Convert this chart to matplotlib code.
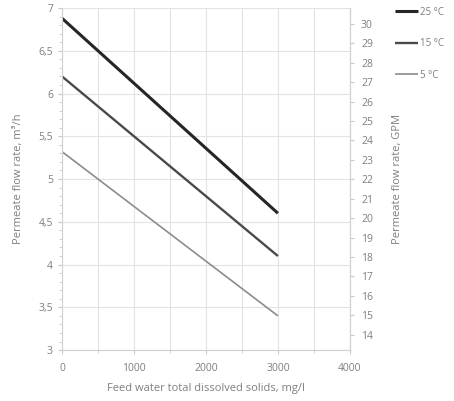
import matplotlib
matplotlib.use("Agg")
import matplotlib.pyplot as plt
from matplotlib.ticker import FuncFormatter, MultipleLocator

# data
tds = [0, 3000]
flow_25 = [6.88, 4.60]
flow_15 = [6.20, 4.10]
flow_5 = [5.32, 3.40]
labels = ["25 °C", "15 °C", "5 °C"]
colors = ["#262626", "#4a4a4a", "#8c8c8c"]
widths = [2.2, 1.7, 1.2]

GPM_PER_M3H = 4.403
grey = "#7f7f7f"

plt.rcParams["font.family"] = ["Open Sans", "DejaVu Sans"]

fig = plt.figure(figsize=(4.54, 4.01), dpi=100)
ax = fig.add_axes([0.1366, 0.127, 0.634, 0.853])

for ys, lab, c, w in zip([flow_25, flow_15, flow_5], labels, colors, widths):
    ax.plot(tds, ys, color=c, linewidth=w, label=lab, solid_capstyle="butt")

ax.set_xlim(0, 4000)
ax.set_ylim(3, 7)
ax.xaxis.set_major_locator(MultipleLocator(1000))
ax.xaxis.set_minor_locator(MultipleLocator(500))
ax.yaxis.set_major_locator(MultipleLocator(0.5))
ax.yaxis.set_minor_locator(MultipleLocator(0.1))
ax.yaxis.set_major_formatter(FuncFormatter(lambda v, p: f"{v:g}".replace(".", ",")))
ax.grid(True, which="major", color="#e3e3e3", linewidth=0.8)
ax.grid(True, which="minor", axis="x", color="#e3e3e3", linewidth=0.8)
ax.set_axisbelow(True)

ax.spines["top"].set_visible(False)
for s in ["left", "bottom", "right"]:
    ax.spines[s].set_color("#d0d0d0")
ax.tick_params(colors="#c8c8c8", labelcolor=grey, labelsize=7.5, length=3)
ax.tick_params(axis="x", pad=6)
ax.tick_params(which="minor", colors="#c8c8c8", length=2)

ax.set_xlabel("Feed water total dissolved solids, mg/l", color=grey, fontsize=8, labelpad=7)
ax.set_ylabel("Permeate flow rate, m³/h", color=grey, fontsize=8, labelpad=10)

ax2 = ax.twinx()
ax2.set_ylim(3 * GPM_PER_M3H, 7 * GPM_PER_M3H)
ax2.yaxis.set_major_locator(MultipleLocator(1))
for s in ["top", "left", "bottom"]:
    ax2.spines[s].set_visible(False)
ax2.spines["right"].set_color("#d0d0d0")
ax2.tick_params(colors="#c8c8c8", labelcolor=grey, labelsize=7.5, length=3, pad=5)
ax2.set_ylabel("Permeate flow rate, GPM", color=grey, fontsize=8, labelpad=14)

fig.legend(loc="upper left", bbox_to_anchor=(0.855, 1.0), frameon=False,
           fontsize=7, labelcolor=grey, handlelength=2.4, handletextpad=0.15,
           labelspacing=2.1, borderaxespad=0.3)

fig.savefig("out.png", dpi=100)
